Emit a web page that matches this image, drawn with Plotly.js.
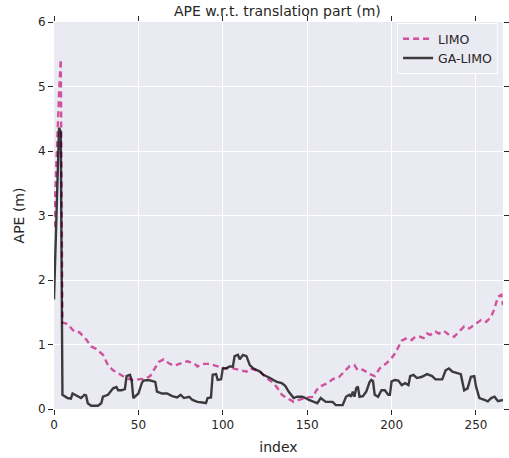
<!DOCTYPE html>
<html>
<head>
<meta charset="utf-8">
<script src="https://cdn.plot.ly/plotly-3.0.1.min.js"></script>
<style>
html,body{margin:0;padding:0;background:#fff;}
#chart{width:509px;height:458px;}
</style>
</head>
<body>
<div id="chart"></div>
<script>
// LIMO series (index, APE in m)
var limoIndex = [0,1,2,3,4,5,8,12,15,19,22,25,29,32,35,39,42,46,50,54,57,60,62,65,68,71,75,79,83,85,88,92,96,101,106,110,114,116,119,122,126,129,132,135,138,142,145,148,150,154,155,157,160,162,165,169,172,175,178,180,183,187,190,193,197,200,202,204,206,209,212,214,217,219,221,223,226,228,231,234,237,240,243,246,250,253,256,259,261,263,265,266];
var limoAPE = [2.82,3.4,4.2,4.9,5.42,1.34,1.32,1.20,1.19,1.08,0.97,0.93,0.84,0.68,0.60,0.54,0.49,0.45,0.46,0.47,0.51,0.63,0.73,0.77,0.71,0.67,0.70,0.74,0.71,0.66,0.70,0.70,0.67,0.63,0.63,0.61,0.58,0.63,0.61,0.58,0.48,0.42,0.34,0.22,0.17,0.11,0.14,0.17,0.18,0.19,0.27,0.34,0.37,0.40,0.46,0.50,0.58,0.66,0.68,0.60,0.61,0.54,0.51,0.63,0.71,0.79,0.86,0.97,1.06,1.10,1.07,1.12,1.12,1.10,1.17,1.15,1.20,1.17,1.21,1.15,1.12,1.20,1.28,1.25,1.33,1.38,1.35,1.43,1.56,1.74,1.77,1.61];

// GA-LIMO series (index, APE in m)
var gaIndex = [0,1,2,3,4,5,8,10,11,14,16,18,19,20,22,26,28,29,32,35,37,38,40,42,43,45,46,47,48,50,52,53,56,60,61,64,67,70,73,75,77,80,82,85,88,90,91,93,94,96,97,99,100,102,104,106,107,109,110,111,112,114,116,118,120,122,124,126,128,130,132,135,137,139,141,142,144,147,149,151,154,156,158,159,161,165,167,171,173,175,176,177,178,179,180,181,183,185,187,188,189,190,192,194,196,198,199,200,202,204,206,208,210,211,213,215,218,221,224,226,230,232,234,236,239,241,243,245,247,249,250,252,255,257,259,261,263,266];
var gaAPE = [1.70,2.5,3.4,4.36,4.30,0.22,0.17,0.16,0.24,0.19,0.17,0.22,0.21,0.09,0.05,0.05,0.09,0.19,0.22,0.32,0.34,0.29,0.29,0.31,0.51,0.53,0.45,0.17,0.19,0.24,0.40,0.44,0.45,0.42,0.27,0.24,0.24,0.20,0.18,0.22,0.17,0.19,0.14,0.11,0.10,0.09,0.17,0.18,0.53,0.54,0.45,0.46,0.63,0.63,0.66,0.66,0.82,0.84,0.77,0.80,0.84,0.82,0.68,0.63,0.60,0.58,0.53,0.51,0.48,0.45,0.42,0.40,0.36,0.27,0.19,0.17,0.19,0.19,0.17,0.14,0.11,0.09,0.17,0.15,0.11,0.11,0.06,0.06,0.19,0.22,0.19,0.27,0.19,0.32,0.35,0.19,0.20,0.27,0.42,0.45,0.43,0.22,0.19,0.29,0.29,0.22,0.22,0.43,0.45,0.44,0.37,0.40,0.37,0.51,0.53,0.48,0.50,0.54,0.51,0.46,0.46,0.60,0.63,0.58,0.55,0.54,0.29,0.32,0.50,0.51,0.35,0.17,0.14,0.12,0.17,0.19,0.12,0.14];

var xTickVals = [0,50,100,150,200,250];
var yTickVals = [0,1,2,3,4,5,6];

var FONT = '"DejaVu Sans", "Liberation Sans", sans-serif';
var TXT = '#262626';

var traces = [
  {x: limoIndex, y: limoAPE, name: 'LIMO', mode: 'lines', type: 'scatter',
   line: {color: 'rgba(199,30,128,0.75)', width: 2.4, dash: '6px,4px'}},
  {x: gaIndex, y: gaAPE, name: 'GA-LIMO', mode: 'lines', type: 'scatter',
   line: {color: 'rgba(0,0,0,0.75)', width: 2.4}}
];

var axisCommon = {
  showgrid: true, gridcolor: '#ffffff', gridwidth: 1,
  zeroline: false, showline: false,
  ticks: 'outside', ticklen: 5, tickwidth: 1, tickcolor: TXT,
  mirror: 'ticks',
  tickfont: {family: FONT, size: 12, color: TXT}
};

var layout = {
  width: 509, height: 458,
  margin: {l: 54, r: 6, t: 22, b: 49, pad: 0},
  paper_bgcolor: '#ffffff',
  plot_bgcolor: '#EAEAF2',
  font: {family: FONT, color: TXT},
  title: {text: 'APE w.r.t. translation part (m)', font: {family: FONT, size: 14, color: TXT},
          x: 0.545, xanchor: 'center', y: 0.976, yanchor: 'middle', yref: 'container'},
  xaxis: Object.assign({}, axisCommon, {
    range: [0, 266], tickvals: xTickVals, ticktext: xTickVals.map(String),
    title: {text: 'index', font: {family: FONT, size: 14, color: TXT}, standoff: 10}
  }),
  yaxis: Object.assign({}, axisCommon, {
    range: [0, 6], tickvals: yTickVals, ticktext: yTickVals.map(String),
    title: {text: 'APE (m)', font: {family: FONT, size: 14, color: TXT}, standoff: 10}
  }),
  showlegend: true,
  legend: {x: 0.989, xanchor: 'right', y: 0.997, yanchor: 'top',
           bgcolor: '#EAEAF2', bordercolor: '#ffffff', borderwidth: 1,
           font: {family: FONT, size: 12.5, color: TXT}}
};

Plotly.newPlot('chart', traces, layout, {displayModeBar: false, staticPlot: true});
</script>
</body>
</html>
